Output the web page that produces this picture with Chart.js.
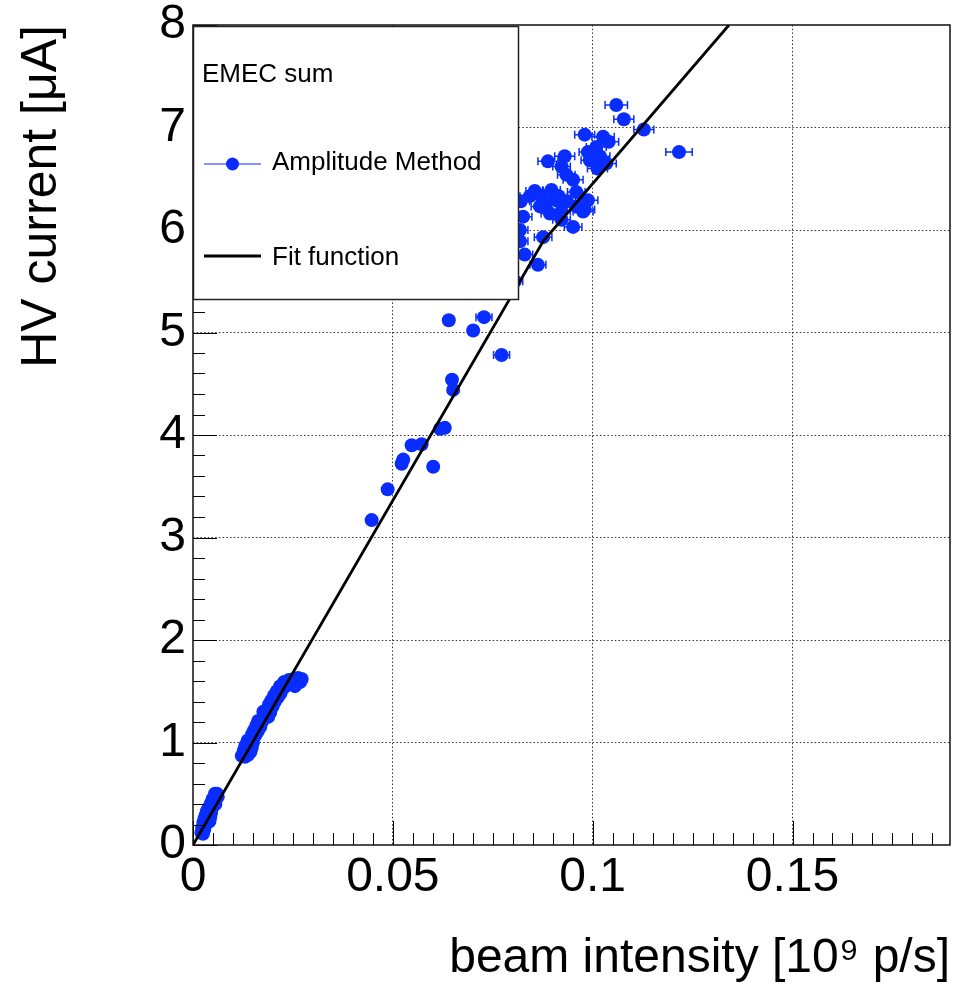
<!DOCTYPE html>
<html>
<head>
<meta charset="utf-8">
<script src="https://cdn.jsdelivr.net/npm/chart.js@4.4.0/dist/chart.umd.min.js"></script>
<style>
  html, body { margin: 0; padding: 0; background: #ffffff; }
  #wrap { width: 967px; height: 989px; }
</style>
</head>
<body>
<div id="wrap"><canvas id="c" width="967" height="989"></canvas></div>
<script>
// ---------------- data ----------------
const X_TICKS = [0, 0.05, 0.1, 0.15];
const X_TICK_LABELS = ['0', '0.05', '0.1', '0.15'];
const Y_TICKS = [0, 1, 2, 3, 4, 5, 6, 7, 8];
const Y_TICK_LABELS = ['0', '1', '2', '3', '4', '5', '6', '7', '8'];

const X_TITLE = 'beam intensity [10\u2079 p/s]';
const Y_TITLE = 'HV current [\u03bcA]';
const LEGEND_HEADER = 'EMEC sum';
const SERIES_LABEL = 'Amplitude Method';
const FIT_LABEL = 'Fit function';

// beam intensity [10^9 p/s]
const beamIntensity = [
  // low-intensity group
  0.0021, 0.0025, 0.0028, 0.0023, 0.0030, 0.0026, 0.0033, 0.0029, 0.0036, 0.0041,
  0.0032, 0.0038, 0.0043, 0.0035, 0.0041, 0.0045, 0.0039, 0.0046, 0.0050, 0.0044,
  0.0052, 0.0056, 0.0049, 0.0057, 0.0062, 0.0055, 0.0060,
  // second group
  0.0122, 0.0130, 0.0138, 0.0127, 0.0135, 0.0144, 0.0131, 0.0140, 0.0147, 0.0137,
  0.0145, 0.0150,
  0.0148, 0.0156, 0.0153, 0.0162, 0.0159, 0.0168, 0.0163, 0.0172, 0.0176, 0.0182,
  0.0178, 0.0188, 0.0185, 0.0193,
  0.0190, 0.0199, 0.0196, 0.0205, 0.0203, 0.0212, 0.0210, 0.0219, 0.0218, 0.0226,
  0.0228, 0.0236, 0.0240, 0.0248, 0.0252, 0.0258, 0.0263, 0.0268, 0.0272, 0.0255,
  // middle points
  0.0447, 0.0487, 0.0522, 0.0526, 0.0547, 0.0572, 0.0601, 0.0618, 0.0630, 0.0648,
  0.0651, 0.0640, 0.0701, 0.0728, 0.0772,
  // high-intensity group
  0.1059, 0.1078, 0.1128, 0.1216, 0.0980, 0.1026, 0.1009, 0.0988, 0.1018, 0.1034,
  0.0993, 0.1040, 0.0888, 0.0930, 0.0922, 0.0934, 0.0951, 0.0959, 0.0988, 0.0980,
  0.0951, 0.0843, 0.0868, 0.0897, 0.0909, 0.0884, 0.0868, 0.0893, 0.0922, 0.0959,
  0.0976, 0.0826, 0.0922, 0.0876, 0.0830, 0.0863, 0.0818, 0.0818, 0.0855, 0.0915,
  0.0935, 0.1012, 0.0805, 0.0820
];

// HV current [uA]
const hvCurrent = [
  0.12, 0.11, 0.15, 0.17, 0.19, 0.22, 0.21, 0.26, 0.24, 0.23,
  0.29, 0.28, 0.27, 0.33, 0.32, 0.31, 0.36, 0.35, 0.38, 0.40,
  0.42, 0.40, 0.45, 0.46, 0.47, 0.50, 0.50,
  0.87, 0.86, 0.88, 0.92, 0.93, 0.91, 0.97, 0.98, 0.95, 1.02,
  1.03, 1.00,
  1.08, 1.07, 1.12, 1.11, 1.17, 1.15, 1.21, 1.20, 1.30, 1.27,
  1.24, 1.25, 1.32, 1.29,
  1.37, 1.35, 1.41, 1.40, 1.46, 1.44, 1.50, 1.48, 1.55, 1.53,
  1.59, 1.56, 1.61, 1.58, 1.62, 1.60, 1.63, 1.59, 1.62, 1.55,
  3.17, 3.47, 3.72, 3.76, 3.90, 3.91, 3.69, 4.06, 4.07, 4.54,
  4.44, 5.12, 5.02, 5.15, 4.78,
  7.22, 7.08, 6.98, 6.76, 6.93, 6.91, 6.81, 6.76, 6.72, 6.65,
  6.68, 6.86, 6.67, 6.72, 6.62, 6.54, 6.49, 6.37, 6.29, 6.20,
  6.03, 6.33, 6.34, 6.39, 6.29, 6.26, 6.23, 6.16, 6.18, 6.23,
  6.18, 6.13, 6.10, 5.93, 5.76, 5.66, 6.00, 5.89, 6.38, 6.33,
  6.28, 6.60, 5.50, 6.28
];

// horizontal error on beam intensity
const beamIntensityErr = [
  0.0003, 0.0003, 0.0003, 0.0003, 0.0003, 0.0003, 0.0003, 0.0003, 0.0003, 0.0003,
  0.0003, 0.0003, 0.0003, 0.0003, 0.0003, 0.0003, 0.0003, 0.0003, 0.0003, 0.0003,
  0.0003, 0.0003, 0.0003, 0.0003, 0.0003, 0.0003, 0.0003,
  0.0006, 0.0006, 0.0006, 0.0006, 0.0006, 0.0006, 0.0006, 0.0006, 0.0006, 0.0006,
  0.0006, 0.0006,
  0.0006, 0.0006, 0.0006, 0.0006, 0.0006, 0.0006, 0.0006, 0.0006, 0.0006, 0.0006,
  0.0006, 0.0006, 0.0006, 0.0006,
  0.0006, 0.0006, 0.0006, 0.0006, 0.0006, 0.0006, 0.0006, 0.0006, 0.0006, 0.0006,
  0.0006, 0.0006, 0.0006, 0.0006, 0.0006, 0.0006, 0.0006, 0.0006, 0.0006, 0.0006,
  0.0012, 0.0012, 0.0012, 0.0012, 0.0012, 0.0012, 0.0012, 0.0012, 0.0012, 0.0012,
  0.0012, 0.0012, 0.0012, 0.0020, 0.0020,
  0.0028, 0.0025, 0.0025, 0.0033, 0.0025, 0.0028, 0.0025, 0.0022, 0.0025, 0.0025,
  0.0022, 0.0025, 0.0025, 0.0025, 0.0022, 0.0022, 0.0025, 0.0022, 0.0025, 0.0025,
  0.0022, 0.0025, 0.0022, 0.0022, 0.0022, 0.0022, 0.0022, 0.0022, 0.0022, 0.0025,
  0.0025, 0.0022, 0.0022, 0.0022, 0.0020, 0.0020, 0.0020, 0.0020, 0.0022, 0.0022,
  0.0022, 0.0025, 0.0020, 0.0022
];

// fit function
const fitX = [0, 0.0876, 0.1341];
const fitY = [0, 5.89, 8.0];

// axis ranges
const X_RANGE = [0, 0.1894];
const Y_RANGE = [0, 8];

// ---------------- styling ----------------
const FONT = '"Liberation Sans", Arial, Helvetica, sans-serif';
const BLUE = '#0a2dff';

const scatterPoints = beamIntensity.map((v, i) => ({ x: v, y: hvCurrent[i] }));
const fitPoints = fitX.map((v, i) => ({ x: v, y: fitY[i] }));

const errorBars = {
  id: 'errorBars',
  beforeDatasetDraw(chart, args) {
    if (args.index !== 1) return;
    const { ctx, chartArea: a, scales: { x, y } } = chart;
    ctx.save();
    ctx.beginPath();
    ctx.rect(a.left, a.top, a.width, a.height);
    ctx.clip();
    ctx.strokeStyle = BLUE;
    ctx.lineWidth = 1.5;
    beamIntensity.forEach((bx, i) => {
      const e = beamIntensityErr[i];
      const p0 = x.getPixelForValue(bx - e);
      const p1 = x.getPixelForValue(bx + e);
      const py = y.getPixelForValue(hvCurrent[i]);
      ctx.beginPath();
      ctx.moveTo(p0, py); ctx.lineTo(p1, py);
      ctx.moveTo(p0, py - 4); ctx.lineTo(p0, py + 4);
      ctx.moveTo(p1, py - 4); ctx.lineTo(p1, py + 4);
      ctx.stroke();
    });
    ctx.restore();
  }
};

const frameAndLegend = {
  id: 'frameAndLegend',
  afterDatasetsDraw(chart) {
    const { ctx, chartArea: a, scales: { x, y } } = chart;
    ctx.save();
    // minor/major ticks inside the frame
    ctx.strokeStyle = '#000';
    ctx.lineWidth = 1;
    const xMinor = 0.005;
    for (let i = 0; i * xMinor <= X_RANGE[1] + 1e-9; i++) {
      const px = Math.round(x.getPixelForValue(i * xMinor)) + 0.5;
      const len = (i % 10 === 0) ? 24 : 12;
      ctx.beginPath(); ctx.moveTo(px, a.bottom); ctx.lineTo(px, a.bottom - len); ctx.stroke();
    }
    const yMinor = 0.2;
    for (let i = 0; i * yMinor <= Y_RANGE[1] + 1e-9; i++) {
      const py = Math.round(y.getPixelForValue(i * yMinor)) + 0.5;
      const len = (i % 5 === 0) ? 24 : 12;
      ctx.beginPath(); ctx.moveTo(a.left, py); ctx.lineTo(a.left + len, py); ctx.stroke();
    }
    // frame
    ctx.lineWidth = 1.5;
    ctx.strokeStyle = '#111';
    ctx.strokeRect(a.left, a.top, a.width, a.height);

    // legend box
    const lx0 = a.left, ly0 = a.top + 1, lw = 325, lh = 273;
    ctx.fillStyle = '#fff';
    ctx.fillRect(lx0, ly0, lw, lh);
    ctx.strokeStyle = '#222';
    ctx.lineWidth = 1.5;
    ctx.strokeRect(lx0 + 0.5, ly0 + 0.5, lw, lh);

    ctx.fillStyle = '#000';
    ctx.font = '26px ' + FONT;
    ctx.textBaseline = 'middle';
    ctx.textAlign = 'left';
    ctx.fillText(LEGEND_HEADER, lx0 + 9, ly0 + 49);

    // series entry
    const e1y = ly0 + 138;
    ctx.strokeStyle = BLUE; ctx.lineWidth = 1.2;
    ctx.beginPath(); ctx.moveTo(lx0 + 11, e1y); ctx.lineTo(lx0 + 68, e1y); ctx.stroke();
    ctx.fillStyle = BLUE;
    ctx.beginPath(); ctx.arc(lx0 + 39.5, e1y, 6.5, 0, Math.PI * 2); ctx.fill();
    ctx.fillStyle = '#000';
    ctx.fillText(SERIES_LABEL, lx0 + 79, e1y - 1);

    // fit entry
    const e2y = ly0 + 230;
    ctx.strokeStyle = '#000'; ctx.lineWidth = 2.8;
    ctx.beginPath(); ctx.moveTo(lx0 + 11, e2y); ctx.lineTo(lx0 + 68, e2y); ctx.stroke();
    ctx.fillText(FIT_LABEL, lx0 + 79, e2y + 2);
    ctx.restore();
  }
};

new Chart(document.getElementById('c'), {
  type: 'scatter',
  data: {
    datasets: [
      {
        label: FIT_LABEL,
        data: fitPoints,
        showLine: true,
        borderColor: '#000',
        borderWidth: 2.8,
        pointRadius: 0,
        tension: 0,
        order: 0
      },
      {
        label: SERIES_LABEL,
        data: scatterPoints,
        pointRadius: 7,
        pointHoverRadius: 7,
        pointStyle: 'circle',
        backgroundColor: BLUE,
        borderWidth: 0,
        order: 1
      }
    ]
  },
  options: {
    responsive: false,
    animation: false,
    devicePixelRatio: 1,
    layout: { padding: { top: 25, right: 17, left: 0, bottom: 0 } },
    plugins: { legend: { display: false }, tooltip: { enabled: false } },
    scales: {
      x: {
        type: 'linear',
        min: X_RANGE[0],
        max: X_RANGE[1],
        afterBuildTicks: (s) => { s.ticks = X_TICKS.map(v => ({ value: v })); },
        afterFit: (s) => { s.height = 144; s.paddingLeft = 0; s.paddingRight = 0; },
        ticks: {
          callback: (v) => { const i = X_TICKS.indexOf(v); return i >= 0 ? X_TICK_LABELS[i] : ''; },
          font: { family: FONT, size: 48 },
          color: '#000',
          padding: 4,
          maxRotation: 0,
          autoSkip: false
        },
        grid: {
          color: (c) => (c.tick && c.tick.value === 0) ? 'rgba(0,0,0,0)' : '#333',
          lineWidth: 1,
          drawTicks: false
        },
        border: { display: false, dash: [1.5, 2.2] },
        title: {
          display: true,
          text: X_TITLE,
          align: 'end',
          color: '#000',
          font: { family: FONT, size: 48 },
          padding: { top: 0, bottom: 1 }
        }
      },
      y: {
        type: 'linear',
        min: Y_RANGE[0],
        max: Y_RANGE[1],
        afterBuildTicks: (s) => { s.ticks = Y_TICKS.map(v => ({ value: v })); },
        afterFit: (s) => { s.width = 193; s.paddingTop = 0; s.paddingBottom = 0; },
        ticks: {
          callback: (v) => { const i = Y_TICKS.indexOf(v); return i >= 0 ? Y_TICK_LABELS[i] : ''; },
          font: { family: FONT, size: 48 },
          color: '#000',
          padding: 7,
          autoSkip: false
        },
        grid: {
          color: (c) => (c.tick && (c.tick.value === 0 || c.tick.value === 8)) ? 'rgba(0,0,0,0)' : '#333',
          lineWidth: 1,
          drawTicks: false
        },
        border: { display: false, dash: [1.5, 2.2] },
        title: {
          display: true,
          text: Y_TITLE,
          align: 'end',
          color: '#000',
          font: { family: FONT, size: 50 },
          padding: { top: 12, bottom: 0 }
        }
      }
    }
  },
  plugins: [errorBars, frameAndLegend]
});
</script>
</body>
</html>
